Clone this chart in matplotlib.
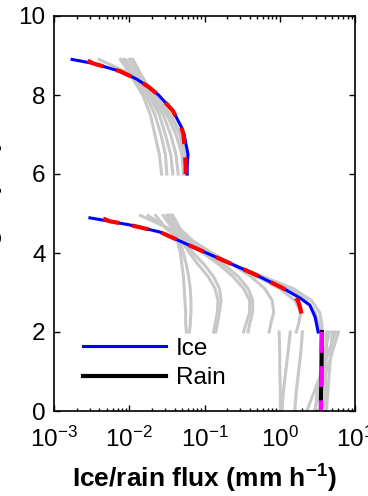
import matplotlib
matplotlib.use("Agg")
import matplotlib.pyplot as plt
from matplotlib.lines import Line2D
from matplotlib.ticker import LogLocator

plt.rcParams["font.family"] = ["Liberation Sans", "DejaVu Sans"]
plt.rcParams["mathtext.fontset"] = "custom"
plt.rcParams["mathtext.rm"] = "Liberation Sans"
plt.rcParams["mathtext.bf"] = "Liberation Sans:bold"

# ice flux, upper cloud layer (mm/h)
z_ice_hi = [8.9, 8.8, 8.6, 8.4, 8.2, 8.0, 7.6, 7.2, 7.0, 6.8, 6.5, 6.2, 6.0]
ice_hi = [0.00174, 0.00331, 0.00759, 0.0126, 0.0182, 0.0245, 0.0380, 0.0490,
          0.0537, 0.0562, 0.0603, 0.0589, 0.0589]
z_ice_hi_ref = [8.87, 8.8, 8.6, 8.4, 8.2, 8.0, 7.6, 7.2, 7.0, 6.8, 6.5, 6.2, 6.0]
ice_hi_ref = [0.0028, 0.00331, 0.00759, 0.0126, 0.0182, 0.0245, 0.0380, 0.0490,
              0.0525, 0.0537, 0.0550, 0.0562, 0.0562]

# ice flux, lower cloud layer
z_ice_lo = [4.89, 4.80, 4.71, 4.53, 4.15, 3.77, 3.45, 3.11, 2.86, 2.68, 2.38, 2.0]
ice_lo = [0.0030, 0.0056, 0.0102, 0.0257, 0.0708, 0.200, 0.479, 1.10, 1.86,
          2.51, 2.95, 3.24]
z_ice_lo_ref = [4.87, 4.80, 4.71, 4.53, 4.15, 3.77, 3.45, 3.11, 2.99, 2.80,
                2.63, 2.45, 2.25]
ice_lo_ref = [0.0045, 0.0056, 0.0102, 0.0257, 0.0708, 0.200, 0.479, 1.10, 1.38,
              1.74, 1.86, 1.95, 2.04]

# rain flux below the melting layer
z_rain = [2.0, 1.5, 1.0, 0.5, 0.0]
rain = [3.63, 3.60, 3.58, 3.55, 3.52]
rain_ref = [3.63, 3.60, 3.58, 3.55, 3.52]

# ensemble members
z_ens_hi = [8.9, 8.5, 8.0, 7.5, 7.0, 6.5, 6.0]
ens_hi = [
    [0.0040, 0.0112, 0.0219, 0.0355, 0.0490, 0.0550, 0.0562],
    [0.0076, 0.0105, 0.0151, 0.0191, 0.0219, 0.0251, 0.0269],
    [0.0083, 0.0112, 0.0166, 0.0219, 0.0263, 0.0302, 0.0316],
    [0.0089, 0.0120, 0.0182, 0.0251, 0.0302, 0.0355, 0.0380],
    [0.0100, 0.0132, 0.0191, 0.0282, 0.0355, 0.0417, 0.0447],
    [0.0105, 0.0138, 0.0200, 0.0316, 0.0417, 0.0501, 0.0525],
    [0.0112, 0.0145, 0.0209, 0.0347, 0.0468, 0.0537, 0.0575],
]

z_ens_lo = [4.95, 4.6, 4.3, 4.0, 3.7, 3.4, 3.1, 2.8, 2.5, 2.2, 2.0]
ens_lo = [
    [0.0282, 0.0380, 0.0437, 0.0479, 0.0501, 0.0525, 0.0537, 0.0550, 0.0562, 0.0562, 0.0575],
    [0.0316, 0.0398, 0.0468, 0.0525, 0.0575, 0.0617, 0.0646, 0.0661, 0.0661, 0.0646, 0.0631],
    [0.0331, 0.0417, 0.0501, 0.0631, 0.0832, 0.112, 0.138, 0.151, 0.148, 0.138, 0.132],
    [0.0347, 0.0427, 0.0525, 0.0708, 0.100, 0.132, 0.158, 0.166, 0.158, 0.148, 0.141],
    [0.0355, 0.0437, 0.0603, 0.0955, 0.158, 0.240, 0.331, 0.398, 0.398, 0.355, 0.331],
    [0.0363, 0.0447, 0.0631, 0.105, 0.182, 0.282, 0.380, 0.437, 0.437, 0.398, 0.380],
    [0.0380, 0.0479, 0.0708, 0.126, 0.240, 0.417, 0.631, 0.794, 0.832, 0.759, 0.724],
    [0.0141, 0.0355, 0.0631, 0.120, 0.240, 0.501, 1.00, 1.58, 1.91, 1.78, 1.66],
    [0.0178, 0.0331, 0.0562, 0.112, 0.251, 0.562, 1.32, 2.24, 2.95, 3.31, 3.39],
    [0.0224, 0.0316, 0.0525, 0.105, 0.240, 0.603, 1.51, 2.63, 3.39, 3.63, 3.63],
]

ens_rain = [
    [0.98, 1.00, 1.00, 1.02, 1.02],
    [1.38, 1.29, 1.20, 1.12, 1.07],
    [2.00, 1.91, 1.78, 1.66, 1.58],
    [5.50, 4.47, 3.63, 2.88, 2.29],
    [6.03, 5.01, 4.17, 3.47, 2.88],
    [5.01, 4.79, 4.57, 4.37, 4.17],
    [4.17, 4.17, 4.07, 4.07, 3.98],
    [4.57, 3.98, 3.55, 3.16, 2.95],
]

grey = "#c8c8c8"

fig = plt.figure(figsize=(3.68, 4.96), dpi=100)
ax = fig.add_axes([54 / 368, 1 - 411 / 496, 301 / 368, 395 / 496])

for m in ens_hi:
    ax.plot(m, z_ens_hi, color=grey, lw=2.2)
for m in ens_lo:
    ax.plot(m, z_ens_lo, color=grey, lw=2.2)
for m in ens_rain:
    ax.plot(m, z_rain, color=grey, lw=2.2)

ax.plot(ice_hi, z_ice_hi, color="blue", lw=2.2)
ax.plot(ice_lo, z_ice_lo, color="blue", lw=2.2)
ax.plot(rain, z_rain, color="black", lw=3)

ax.plot(ice_hi_ref, z_ice_hi_ref, color="red", lw=3, dashes=(4, 3.2))
ax.plot(ice_lo_ref, z_ice_lo_ref, color="red", lw=3, dashes=(4, 3.2))
ax.plot(rain_ref, z_rain, color="magenta", lw=3, dashes=(5, 3.2))

ax.set_xscale("log")
ax.set_xlim(1e-3, 1e1)
ax.set_ylim(0, 10)
ax.set_yticks([0, 2, 4, 6, 8, 10])
ax.xaxis.set_minor_locator(LogLocator(base=10, subs=range(2, 10)))

ax.tick_params(which="both", direction="in", top=True, right=True,
               labelsize=17.5, width=1)
ax.tick_params(which="major", length=4)
ax.tick_params(which="minor", length=2)
ax.tick_params(axis="y", pad=6)
ax.tick_params(axis="x", pad=11)
for s in ax.spines.values():
    s.set_linewidth(1.2)

ax.set_xlabel(r"Ice/rain flux (mm h$^{\mathbf{-1}}$)", fontsize=19,
              fontweight="bold", labelpad=7)
ax.set_ylabel("Height (km)", fontsize=19, fontweight="bold", labelpad=12)

handles = [Line2D([], [], color="blue", lw=2.2), Line2D([], [], color="black", lw=3)]
ax.legend(handles, ["Ice", "Rain"], loc="lower left", bbox_to_anchor=(0.025, 0.0),
          frameon=False, fontsize=17.5, handlelength=3.4, handletextpad=0.4,
          labelspacing=0.3)

fig.savefig("out.png", dpi=100)
